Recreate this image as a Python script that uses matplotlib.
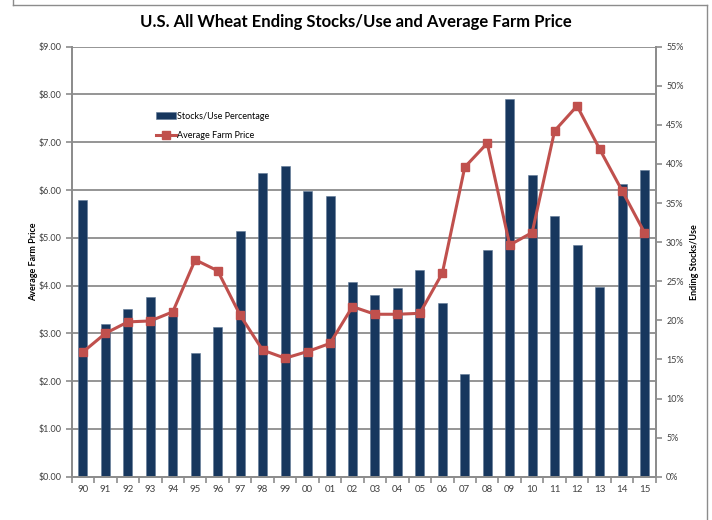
import matplotlib.pyplot as plt
from matplotlib.lines import Line2D
import numpy as np

plt.rcParams["font.family"] = ["Lato", "DejaVu Sans"]

YEARS = ["90", "91", "92", "93", "94", "95", "96", "97", "98", "99", "00", "01", "02",
         "03", "04", "05", "06", "07", "08", "09", "10", "11", "12", "13", "14", "15"]
STOCKS_USE = [35.4, 19.5, 21.4, 23.0, 20.5, 15.8, 19.2, 31.4, 38.9, 39.7, 36.5, 35.9, 24.9,
              23.2, 24.1, 26.4, 22.2, 13.1, 29.0, 48.3, 38.6, 33.3, 29.7, 24.3, 37.4, 39.2]
FARM_PRICE = [2.61, 3.00, 3.24, 3.26, 3.45, 4.54, 4.31, 3.38, 2.65, 2.48, 2.62, 2.79, 3.56,
              3.40, 3.40, 3.42, 4.26, 6.48, 6.98, 4.85, 5.11, 7.24, 7.76, 6.86, 5.99, 5.11]
PRICE_TICKS = [0, 1, 2, 3, 4, 5, 6, 7, 8, 9]
PCT_TICKS = [0, 5, 10, 15, 20, 25, 30, 35, 40, 45, 50, 55]

BAR_COLOR = "#17375E"
LINE_COLOR = "#C0504D"
GRID_COLOR = "#8C8C8C"

fig = plt.figure(figsize=(7.12, 5.2), dpi=100)
W, H = 712, 520

# chart area border (open at the bottom)
for xs, ys in [([13, 13], [0, 5]), ([13, 707], [5, 5]), ([707, 707], [5, 520])]:
    fig.add_artist(Line2D([x / W for x in xs], [1 - y / H for y in ys], color="#8C8C8C", lw=1.0))

rect = [71.7 / W, 1 - 476.7 / H, (655.7 - 71.7) / W, (476.7 - 46.7) / H]
ax_bar = fig.add_axes(rect)
ax_price = ax_bar.twinx()

x = np.arange(len(YEARS))
pmax, smax = PRICE_TICKS[-1], PCT_TICKS[-1]

# gridlines at the dollar ticks, drawn in the bar axis so bars sit on top
for d in PRICE_TICKS[1:]:
    ax_bar.axhline(d * smax / pmax, color=GRID_COLOR, lw=1.3, zorder=0)

bars = ax_bar.bar(x, STOCKS_USE, width=0.4, color=BAR_COLOR, edgecolor="#5F7896",
                  linewidth=0.4, zorder=2, label="Stocks/Use Percentage")
ax_bar.set_ylim(0, smax)
ax_bar.set_xlim(-0.5, len(YEARS) - 0.5)
ax_bar.yaxis.tick_right()
ax_bar.yaxis.set_label_position("right")
ax_bar.set_yticks(PCT_TICKS)
ax_bar.set_yticklabels([f"{p}%" for p in PCT_TICKS])
ax_bar.set_ylabel("Ending Stocks/Use", fontsize=6.5, fontweight="bold", labelpad=4.5)

line, = ax_price.plot(x, FARM_PRICE, color=LINE_COLOR, lw=2.2, marker="s", markersize=6,
                      label="Average Farm Price")
ax_price.set_ylim(0, pmax)
ax_price.yaxis.tick_left()
ax_price.yaxis.set_label_position("left")
ax_price.set_yticks(PRICE_TICKS)
ax_price.set_yticklabels([f"${p:.2f}" for p in PRICE_TICKS])
ax_price.set_ylabel("Average Farm Price", fontsize=6.5, fontweight="bold", labelpad=0)

ax_bar.set_xticks(x)
ax_bar.set_xticklabels(YEARS)
ax_bar.set_xticks(np.arange(-0.5, len(YEARS)), minor=True)
ax_bar.tick_params(axis="x", which="major", length=0, labelsize=7, pad=6, colors="#404040")
ax_bar.tick_params(axis="x", which="minor", length=4, color=GRID_COLOR, width=1.2)

for a in (ax_bar, ax_price):
    a.tick_params(axis="y", labelsize=6.5, length=4, width=1.2, color=GRID_COLOR,
                  labelcolor="#404040")
    a.spines["top"].set_visible(False)
    for side in ("left", "right", "bottom"):
        a.spines[side].set_color(GRID_COLOR)
        a.spines[side].set_linewidth(1.3)

ax_price.legend([bars, line], ["Stocks/Use Percentage", "Average Farm Price"],
                loc="upper left", bbox_to_anchor=(0.13, 0.868), frameon=False, fontsize=6.5,
                handlelength=2.2, labelspacing=1.2, handletextpad=0.1)

fig.text(0.5, 1 - 22 / H, "U.S. All Wheat Ending Stocks/Use and Average Farm Price",
         ha="center", va="center", fontsize=12, fontweight="bold")

fig.savefig("out.png", dpi=100)
